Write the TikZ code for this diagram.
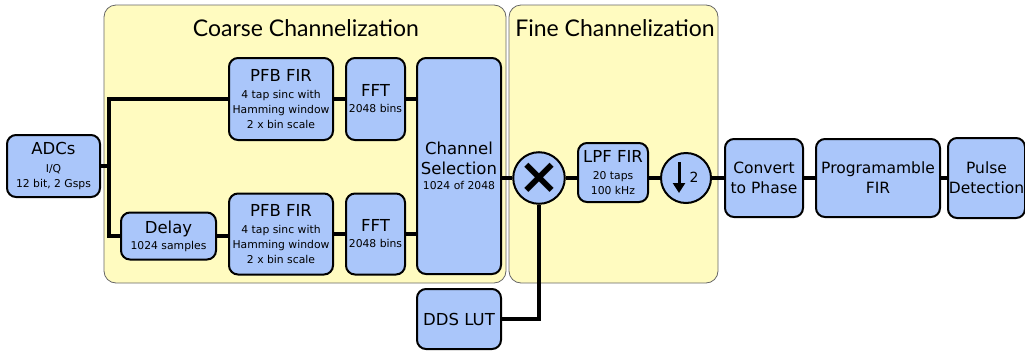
\documentclass[tikz,border=0pt]{standalone}
\usepackage{fontspec}
\setmainfont{DejaVu Sans}
\newfontfamily\titlefont{Lato}
\usetikzlibrary{arrows.meta, positioning}
\definecolor{blkblue}{HTML}{AAC6FA}
\definecolor{grpyellow}{HTML}{FFFBC0}
\newcommand\subtxt[1]{{\fontsize{10.8}{14}\selectfont #1}}

\begin{document}
\begin{tikzpicture}[x=1pt, y=-1pt,
    blk/.style={draw, line width=2pt, rounded corners=9pt, fill=blkblue, align=center, inner sep=0pt, font=\fontsize{16.5}{14}\selectfont},
    grp/.style={draw=black!60, line width=0.8pt, rounded corners=12pt, fill=grpyellow},
    wire/.style={line width=3.2pt},
    circ/.style={draw, circle, line width=2pt, fill=blkblue, minimum size=50pt, inner sep=0pt}]

    \useasboundingbox (0,0) rectangle (1025,354);

    % the two stages
    \draw[grp] (104,5) rectangle (506,283);
    \draw[grp] (509,5) rectangle (718,283);
    \node (coarse) at (306,28) {\titlefont\fontsize{23}{24}\selectfont Coarse Channelization};
    \node (fine) at (615,28) {\titlefont\fontsize{23}{24}\selectfont Fine Channelization};

    \node[blk, minimum width=93, minimum height=62] (adc) at (53.5,166) {ADCs\\[4pt]\subtxt{I/Q}\\[1pt]\subtxt{12 bit, 2 Gsps}};
    \node[blk, minimum width=95, minimum height=47] (delay) at (168.5,236) {Delay\\[2pt]\subtxt{1024 samples}};
    \node[blk, minimum width=104, minimum height=82] (pfbA) at (281,99) {PFB FIR\\[3pt]\subtxt{4 tap sinc with}\\[1pt]\subtxt{Hamming window}\\[1pt]\subtxt{2 x bin scale}};
    \node[blk, minimum width=104, minimum height=81] (pfbB) at (281,234) {PFB FIR\\[3pt]\subtxt{4 tap sinc with}\\[1pt]\subtxt{Hamming window}\\[1pt]\subtxt{2 x bin scale}};
    \node[blk, minimum width=59, minimum height=82] (fftA) at (375.5,99) {FFT\\[2pt]\subtxt{2048 bins}};
    \node[blk, minimum width=59, minimum height=81] (fftB) at (375.5,234) {FFT\\[2pt]\subtxt{2048 bins}};
    \node[blk, minimum width=84, minimum height=216] (chan) at (459,166) {Channel\\[6pt]Selection\\[1pt]\subtxt{1024 of 2048}};
    \node[blk, minimum width=84, minimum height=60] (dds) at (459,319) {DDS LUT};
    \node[circ] (mix) at (539,178) {\fontsize{50}{50}\bfseries ×};
    \node[blk, minimum width=70, minimum height=59] (lpf) at (613,172.5) {LPF FIR\\[3pt]\subtxt{20 taps}\\[1pt]\subtxt{100 kHz}};
    \node[circ] (down) at (686,178) {};
    \draw[line width=3pt, -{Triangle[width=12pt, length=10pt]}] (679,162) -- (679,193);
    \node[inner sep=0pt] (downfactor) at (694,177) {\fontsize{14}{14}\selectfont 2};
    \node[blk, minimum width=78, minimum height=78, font=\fontsize{15.5}{20}\selectfont] (conv) at (764,178) {Convert\\to Phase};
    \node[blk, minimum width=124, minimum height=78, font=\fontsize{15.5}{20}\selectfont] (prog) at (878,178) {Programamble\\FIR};
    \node[blk, minimum width=77, minimum height=80, font=\fontsize{15.5}{20}\selectfont] (pulse) at (986.5,178) {Pulse\\Detection};

    % signal path
    \coordinate (split) at (109,166);
    \draw[wire] (adc.east) -- (split);
    \draw[wire] (pfbA.west) -| (split) |- (delay.west);
    \draw[wire] (delay.east) -- (delay.east -| pfbB.west);
    \draw[wire] (pfbA) -- (fftA);
    \draw[wire] (pfbB.east) -- (pfbB.east -| fftB.west);
    \draw[wire] (fftA.east) -- (fftA.east -| chan.west);
    \draw[wire] (fftB.east) -- (fftB.east -| chan.west);
    \draw[wire] (mix.west) -- (mix.west -| chan.east);
    \draw[wire] (dds.east) -| (mix.south);
    \draw[wire] (mix.east) -- (mix.east -| lpf.west);
    \draw[wire] (down.west) -- (down.west -| lpf.east);
    \draw[wire] (down) -- (conv);
    \draw[wire] (conv) -- (prog);
    \draw[wire] (prog) -- (pulse);
\end{tikzpicture}
\end{document}
